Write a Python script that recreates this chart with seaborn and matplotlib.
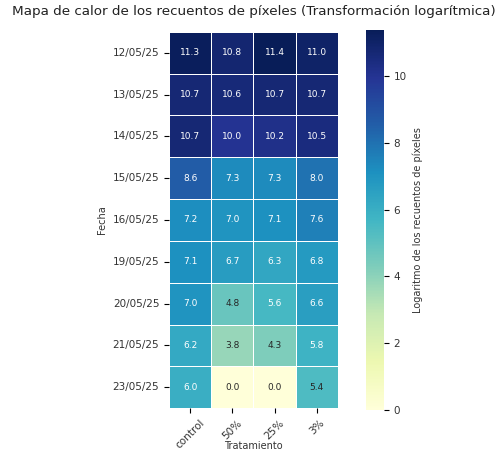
import matplotlib
matplotlib.use("Agg")
import matplotlib.pyplot as plt
import seaborn as sns
import pandas as pd
import numpy as np

fechas = ["12/05/25", "13/05/25", "14/05/25", "15/05/25", "16/05/25",
          "19/05/25", "20/05/25", "21/05/25", "23/05/25"]
tratamientos = ["control", "50%", "25%", "3%"]
control = [11.3, 10.7, 10.7, 8.6, 7.2, 7.1, 7.0, 6.2, 6.0]
p50 = [10.8, 10.6, 10.0, 7.3, 7.0, 6.7, 4.8, 3.8, 0.0]
p25 = [11.4, 10.7, 10.2, 7.3, 7.1, 6.3, 5.6, 4.3, 0.0]
p3 = [11.0, 10.7, 10.5, 8.0, 7.6, 6.8, 6.6, 5.8, 5.4]

df = pd.DataFrame({"control": control, "50%": p50, "25%": p25, "3%": p3}, index=fechas)
df.index.name = "Fecha"
df.columns.name = "Tratamiento"

fig = plt.figure(figsize=(4.97, 4.54), dpi=100)
ax = fig.add_axes([0.340, 0.101, 0.340, 0.829])
cax = fig.add_axes([0.736, 0.097, 0.036, 0.838])

sns.heatmap(df, ax=ax, cbar_ax=cax, cmap="YlGnBu", annot=True, fmt=".1f",
            linewidths=0.6, linecolor="white", vmin=0,
            annot_kws={"fontsize": 6.5},
            cbar_kws={"label": "Logaritmo de los recuentos de píxeles"})
ax.set_xticklabels(ax.get_xticklabels(), rotation=45, fontsize=7.5, color="#333333")
ax.set_yticklabels(ax.get_yticklabels(), rotation=0, fontsize=7.5, color="#333333")
ax.set_xlabel("Tratamiento", fontsize=7, color="#333333")
ax.xaxis.set_label_coords(0.5, -0.088)
ax.set_ylabel("Fecha", fontsize=7, color="#333333")
cax.tick_params(labelsize=7.5, labelcolor="#333333")
cax.yaxis.label.set_size(7)
cax.yaxis.label.set_color("#333333")
fig.suptitle("Mapa de calor de los recuentos de píxeles (Transformación logarítmica)",
             x=0.51, y=0.988, fontsize=9.7, color="#222222")
fig.savefig("out.png", dpi=100)
